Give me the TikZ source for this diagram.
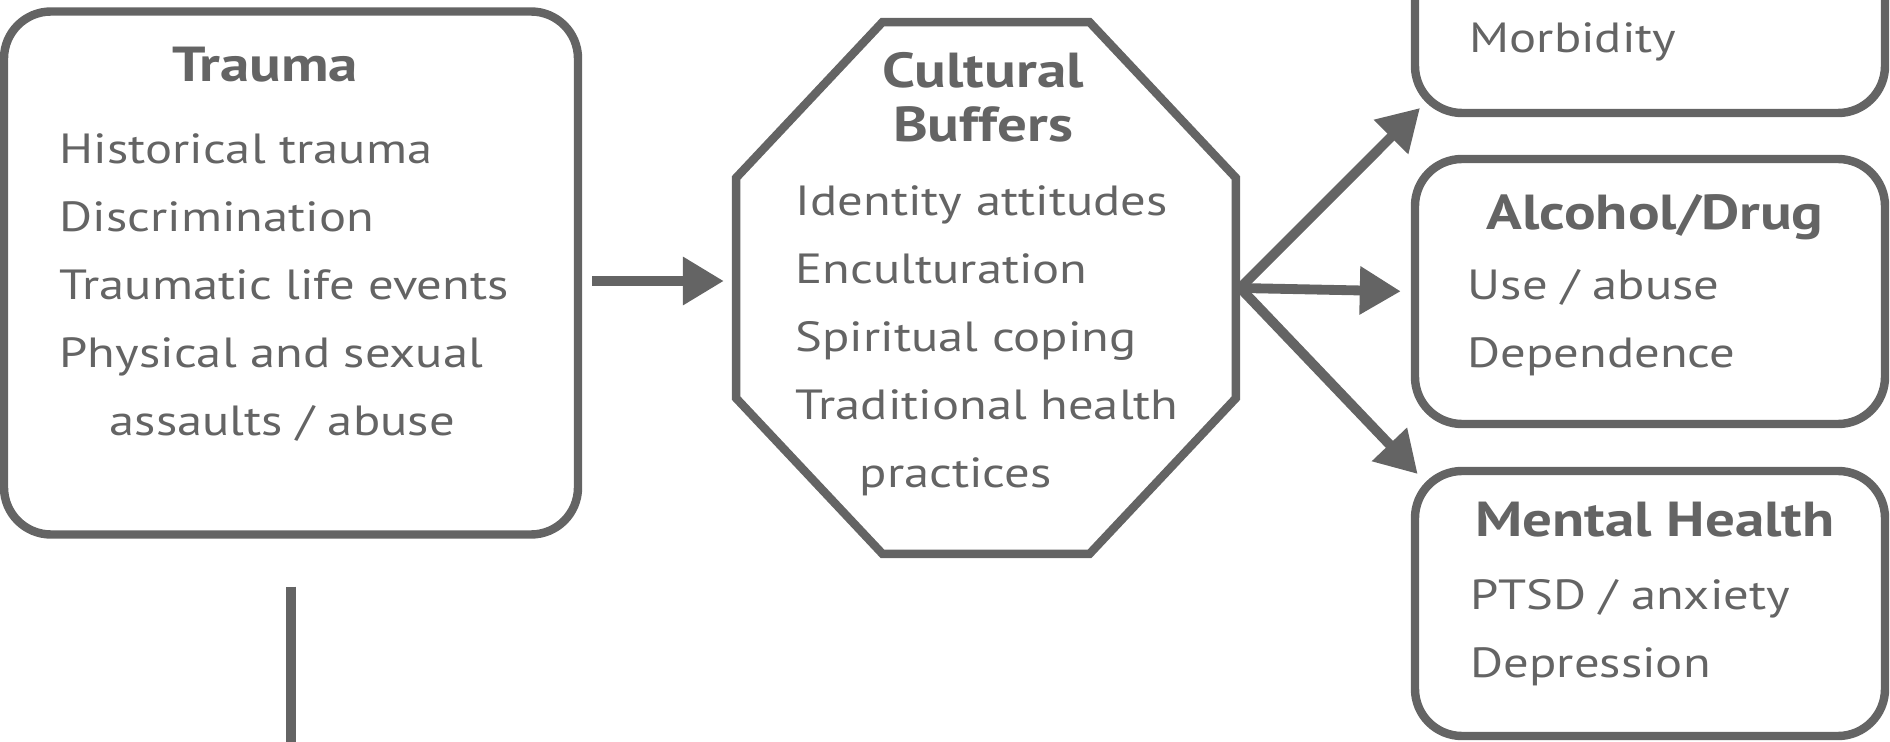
\documentclass[tikz,border=0pt]{standalone}
\usepackage{fontspec}
\setmainfont{PT Sans}[FakeStretch=1.2]
\usepackage{tikz}
\usetikzlibrary{shapes,arrows.meta,positioning}
\definecolor{ink}{RGB}{100,100,100}
\tikzstyle{box} = [rectangle, rounded corners=0.47cm, draw=ink, line width=2.4pt, inner sep=0pt, minimum width=4.7cm, minimum height=2.65cm]
\tikzstyle{octa} = [regular polygon, regular polygon sides=8, minimum size=5.41cm, draw=ink, line width=2.4pt, inner sep=0pt, yscale=1.064, transform shape]
\tikzstyle{title} = [text=ink, font=\bfseries\fontsize{14}{15.6}\selectfont, align=center, inner sep=0pt, anchor=base]
\tikzstyle{body} = [text=ink, font=\fontsize{12}{19.3}\selectfont, align=left, inner sep=0pt, anchor=base west]
\tikzstyle{tedge}  = [draw=ink, line width=2.8pt, -{Triangle[length=0.41cm,width=0.46cm]}]

\begin{document}
\begin{tikzpicture}
\clip (0,0) rectangle (18.9,-7.42);

% boxes =============================
\node[box, minimum width=5.74cm, minimum height=5.23cm] (trauma) at (2.91,-2.73) {};
\node[octa] (buffers) at (9.86,-2.88) {};
\node[box] (physical) at (16.5,0.195) {};
\node[box] (alcohol) at (16.5,-2.915) {};
\node[box] (mental) at (16.5,-6.035) {};
\coordinate (below) at (2.91,-7.8);

% titles
\node[title] (traumatitle) at (2.65,-0.82) {Trauma};
\node[title] (bufferstitle) at (9.83,-1.42) {Cultural\\Buffers};
\node[title] (alcoholtitle) at (16.55,-2.30) {Alcohol/Drug};
\node[title] (mentaltitle) at (16.55,-5.36) {Mental Health};

% lists
\node[body] (traumalist) at (0.59,-4.35) {Historical trauma\\Discrimination\\Traumatic life events\\Physical and sexual\\\hspace{0.5cm}assaults / abuse};
\node[body] (bufferslist) at (7.95,-4.87) {Identity attitudes\\Enculturation\\Spiritual coping\\Traditional health\\\hspace{0.64cm}practices};
\node[body] (physicallist) at (14.69,-0.53) {Morbidity};
\node[body] (alcohollist) at (14.67,-3.67) {Use / abuse\\Dependence};
\node[body] (mentallist) at (14.70,-6.77) {PTSD / anxiety\\Depression};

%edges
\path[tedge, shorten >=0.08cm] ([yshift=-0.08cm]trauma.east) ++(0.1,0) -- ([yshift=-0.08cm]trauma.east -| buffers.west);
\path[tedge, shorten >=-0.13cm] (buffers.east) -- (physical.south west);
\path[tedge, shorten >=0.1cm] (buffers.east) -- (alcohol.west);
\path[tedge, shorten >=-0.1cm] (buffers.east) -- (mental.north west);
\path[draw=ink, line width=2.8pt, shorten <=0.48cm] (trauma.south) -- (below);

\end{tikzpicture}
\end{document}
